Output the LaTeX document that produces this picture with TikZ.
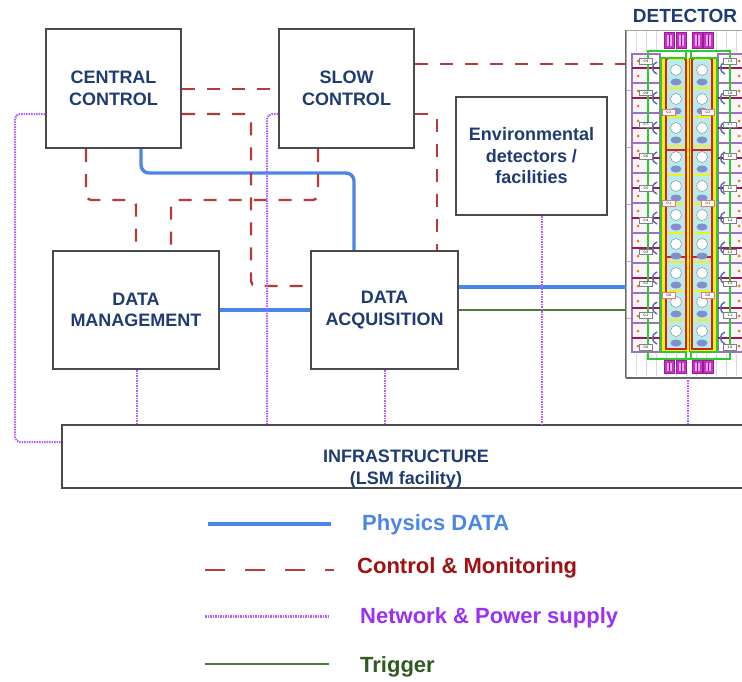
\documentclass[tikz,border=0pt]{standalone}
\usepackage{fontspec}
\setmainfont{Liberation Sans}
\definecolor{boxtext}{HTML}{1F3B73}
\definecolor{boxgray}{HTML}{4A4A4A}
\definecolor{physblue}{HTML}{4A86E8}
\definecolor{ctrlred}{HTML}{B53A3A}
\definecolor{ctrltext}{HTML}{A01212}
\definecolor{netviolet}{HTML}{B35CFF}
\definecolor{nettext}{HTML}{9B30F5}
\definecolor{trigreen}{HTML}{4F7B3F}
\definecolor{trigtext}{HTML}{2F5A22}
\definecolor{detgreen}{HTML}{2BCB2B}
\definecolor{detyellow}{HTML}{F4EE1C}
\definecolor{detcyan}{HTML}{B8ECEC}
\definecolor{detred}{HTML}{D42020}
\definecolor{detviolet}{HTML}{A070C0}
\definecolor{detmaroon}{HTML}{9A1A4A}
\definecolor{pmtblue}{HTML}{5A6AB8}
\definecolor{detmagenta}{HTML}{CC30CC}
\begin{document}
\begin{tikzpicture}[x=1pt,y=-1pt,
  box/.style={draw=boxgray,line width=2pt,fill=white,inner sep=0pt,align=center,text=boxtext,font=\bfseries\fontsize{18}{21.5}\selectfont},
  data/.style={physblue,line width=3.4pt,rounded corners=8pt},
  ctrl/.style={ctrlred,line width=2.4pt,dash pattern=on 13pt off 12pt,rounded corners=5pt},
  net/.style={netviolet,line width=2pt,dash pattern=on 1.5pt off 1pt,rounded corners=5pt},
  trig/.style={trigreen,line width=2.8pt},
  legtext/.style={anchor=base west,inner sep=0pt,font=\bfseries\fontsize{22}{26}\selectfont},
  detlab/.style={draw=gray,fill=white,inner sep=0pt,minimum width=13pt,minimum height=5.5pt,font=\fontsize{3.5}{4}\selectfont}]
\useasboundingbox (0,0) rectangle (742,681);

\node[box,minimum width=135pt,minimum height=119pt] (cc) at (113.5,88.5) {CENTRAL\\CONTROL};
\node[box,minimum width=135pt,minimum height=119pt] (sc) at (346.5,88.5) {SLOW\\CONTROL};
\node[box,minimum width=151pt,minimum height=118pt] (env) at (531.5,156) {Environmental\\detectors /\\facilities};
\node[box,minimum width=166pt,minimum height=118pt] (dm) at (136,310) {DATA\\MANAGEMENT};
\node[box,minimum width=147pt,minimum height=118pt] (da) at (384.5,310) {DATA\\ACQUISITION};
\node[box,minimum width=688pt,minimum height=63pt] (infra) at (406,456.5) {};
\node[align=center,text=boxtext,font=\bfseries\fontsize{18}{21.5}\selectfont] (infratext) at (406,469) {INFRASTRUCTURE\\(LSM facility)};

\node[draw=gray!70,line width=1pt,fill=white,minimum width=124pt,minimum height=347pt,inner sep=0pt] (det) at (688,203.5) {};
\node[text=boxtext,font=\bfseries\fontsize{19}{20}\selectfont] (dettitle) at (685,15.5) {DETECTOR};
\draw[gray!80!black,line width=2pt] (det.south west) -- (det.south east);
\draw[gray!80!black,line width=1pt] (det.south west) -- (det.north west);
\foreach \x in {636,646,...,746} {
  \draw[gray!30] (\x,31) -- (\x,52);
  \draw[gray!30] (\x,354) -- (\x,376);
}
\foreach \y in {90,147,204,261,318}
  \draw[gray!60] (627,\y) -- (631,\y);
\fill[detviolet!8] (632,54) rectangle (647,352);
\fill[detviolet!8] (731,54) rectangle (760,352);
\draw[detviolet,line width=1.2pt] (632,54) rectangle (660,352);
\draw[detviolet,line width=1.2pt] (718,54) rectangle (760,352);
\foreach \y in {68,98,...,338} {
  \draw[detmaroon,line width=1.3pt] (632,\y) -- (660,\y);
  \draw[detmaroon,line width=1.3pt] (718,\y) -- (760,\y);
}
\foreach \y in {83,113,...,323} {
  \draw[detviolet,line width=1.3pt] (632,\y) -- (660,\y);
  \draw[detviolet,line width=1.3pt] (718,\y) -- (760,\y);
}
\foreach \y in {61,76,...,346} {
  \fill[orange!90!red] (638,\y) circle (1.5);
  \fill[orange!90!red] (739,\y) circle (1.5);
}
\foreach \y in {68,98,...,338} {
  \draw[pmtblue,line width=1.5pt] (657,\y-6) .. controls (651,\y-4) and (651,\y+4) .. (657,\y+6);
  \draw[pmtblue,line width=1.5pt] (725,\y-6) .. controls (719,\y-4) and (719,\y+4) .. (725,\y+6);
}
\draw[detgreen,line width=2.2pt] (648,51) rectangle (730,359);
\fill[detyellow] (662,58) rectangle (716,352);
\foreach \xa/\xb in {666/686,692/712} {
  \foreach \ya/\yb in {59/150,150/257,257/349}
    \draw[detred,line width=1.5pt,fill=detcyan] (\xa,\ya) rectangle (\xb,\yb);
}
\foreach \xc in {676,702} {
  \foreach \y in {59,88,...,320} {
    \draw[detyellow,line width=1.5pt] (\xc-8,\y) -- (\xc+8,\y);
    \draw[gray,fill=white] (\xc,\y+11) circle (5.5);
    \fill[pmtblue!75] (\xc,\y+23) ellipse (5.5 and 3.5);
  }
}
\draw[orange!70!black,line width=0.8pt] (689,58) -- (689,352);
\draw[detgreen,line width=2.2pt] (686,51) |- (661,58) -- (661,352) -| (686,359);
\draw[detgreen,line width=2.2pt] (691,51) |- (717,58) -- (717,352) -| (691,359);
\foreach \x in {664,676,692,703} {
  \draw[detmagenta!70!black,fill=detmagenta] (\x,32) rectangle ++(10,16);
  \fill[white!60!detmagenta] (\x+2.5,35) rectangle ++(5,11);
  \draw[detmagenta!60!black] (\x+5,35) -- (\x+5,46);
  \draw[detmagenta!70!black,fill=detmagenta] (\x,360) rectangle ++(10,13);
  \fill[white!60!detmagenta] (\x+2.5,363) rectangle ++(5,8);
  \draw[detmagenta!60!black] (\x+5,363) -- (\x+5,371);
}
\foreach \k in {0,...,9} {
  \pgfmathsetmacro\yl{61+31.8*\k}
  \pgfmathtruncatemacro\nl{9-\k}
  \node[detlab] (labl\k) at (646,\yl) {0.\nl};
  \node[detlab] (labr\k) at (730,\yl) {1.\nl};
}
\foreach \y/\n in {112/2,203/1,295/0} {
  \node[detlab,draw=detred!60] (labil\n) at (669,\y) {0.\n};
  \node[detlab,draw=detred!60] (labir\n) at (708,\y) {0.\n};
}

\draw[data] (cc.south -| 141,0) |- (354,173) -- (da.north -| 354,0);
\draw[data] (dm.east) -- (da.west);
\draw[data] (da.east |- 0,287) -- (det.west |- 0,287);
\draw[trig] (da.east |- 0,310) -- (det.west |- 0,310);

\draw[ctrl] (sc.east |- 0,64) -- (det.west |- 0,64);
\draw[ctrl] (cc.east |- 0,89) -- (sc.west |- 0,89);
\draw[ctrl] (cc.east |- 0,114) -| (251,286) -- (da.west |- 0,286);
\draw[ctrl] (sc.east |- 0,114) -| (da.north -| 437,0);
\draw[ctrl] (cc.south -| 86,0) |- (136,200) -- (dm.north -| 136,0);
\draw[ctrl] (sc.south -| 318,0) |- (171,200) -- (dm.north -| 171,0);

\draw[net] (cc.west |- 0,114) -| (15,442) -- (infra.west |- 0,442);
\draw[net] (sc.west |- 0,114) -| (infra.north -| 267,0);
\draw[net] (dm.south -| 137,0) -- (infra.north -| 137,0);
\draw[net] (da.south) -- (infra.north -| da.south);
\draw[net] (env.south -| 542,0) -- (infra.north -| 542,0);
\draw[net] (det.south) -- (infra.north -| det.south);

\coordinate (ld1) at (208,524);
\coordinate (ld2) at (331,524);
\coordinate (lc1) at (205,570);
\coordinate (lc2) at (334,570);
\coordinate (ln1) at (205,616.5);
\coordinate (ln2) at (329,616.5);
\coordinate (lt1) at (205,664);
\coordinate (lt2) at (329,664);
\draw[data] (ld1) -- (ld2);
\draw[ctrl,dash pattern=on 20pt off 20pt] (lc1) -- (lc2);
\draw[net,line width=2.5pt] (ln1) -- (ln2);
\draw[trig] (lt1) -- (lt2);
\node[legtext,text=physblue] (legdata) at (362,530.5) {Physics DATA};
\node[legtext,text=ctrltext] (legctrl) at (357,573.5) {Control \& Monitoring};
\node[legtext,text=nettext] (legnet) at (360,623) {Network \& Power supply};
\node[legtext,text=trigtext] (legtrig) at (360,672) {Trigger};
\end{tikzpicture}
\end{document}
